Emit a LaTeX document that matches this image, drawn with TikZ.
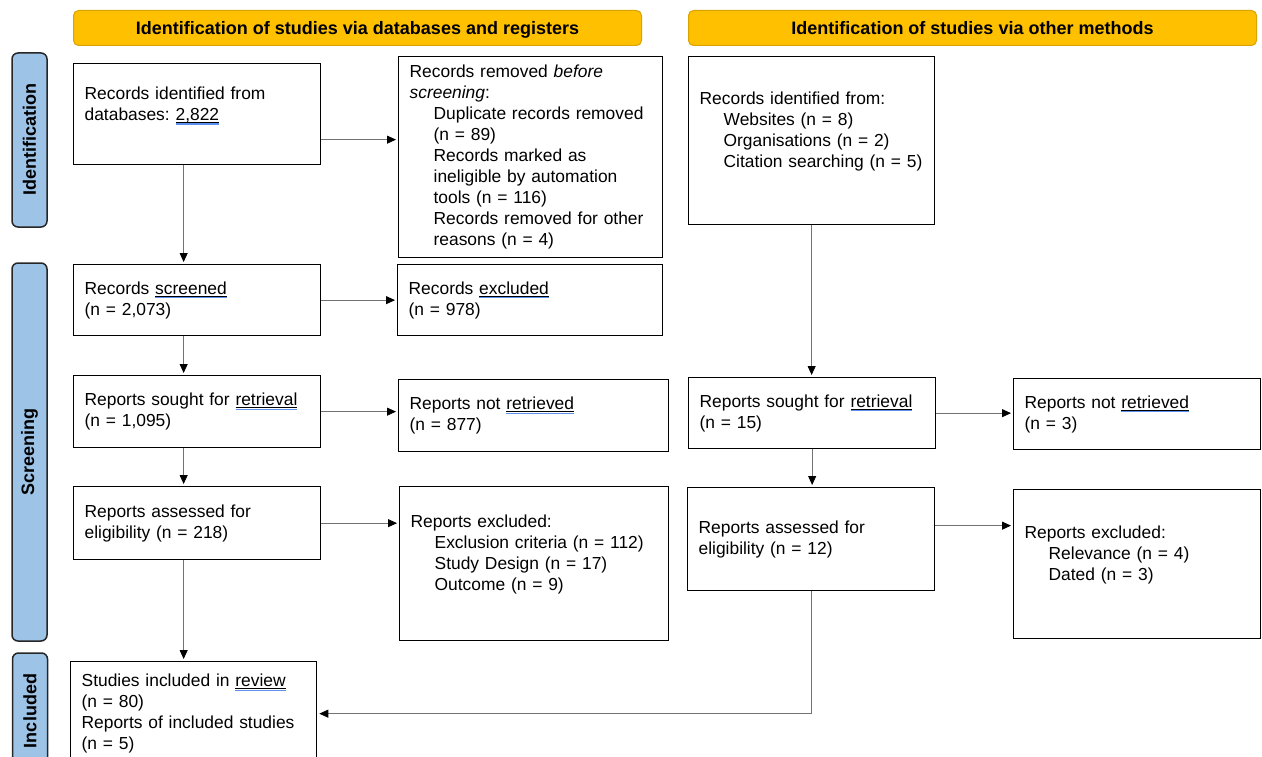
\documentclass[tikz,border=0pt]{standalone}
\usepackage{fontspec}
\setmainfont{Liberation Sans}
\usetikzlibrary{arrows.meta}
\definecolor{hdrfill}{HTML}{FFC000}
\definecolor{hdrline}{HTML}{D9A300}
\definecolor{barfill}{HTML}{9DC3E6}
\definecolor{spellblue}{HTML}{5B8FF0}
\newcommand{\spell}[1]{\setbox0=\hbox{#1}\rlap{\color{black}\rule[-2pt]{\wd0}{0.6pt}}\rlap{\color{spellblue}\rule[-4.2pt]{\wd0}{1.2pt}}\box0}
\newcommand{\ind}{\hspace*{24pt}}
\frenchspacing

\begin{document}
\begin{tikzpicture}[x=1pt, y=-1pt,
  every node/.style={font=\fontsize{17.4}{21}\selectfont},
  hdr/.style={draw=hdrline, fill=hdrfill, rounded corners=5pt, line width=1pt, anchor=north west, minimum width=568pt, minimum height=35pt, inner sep=0pt, text height=16pt, text depth=2pt, font=\fontsize{18}{21}\selectfont\bfseries},
  bar/.style={draw=black!85, fill=barfill, rounded corners=6pt, line width=1.5pt, rotate=90, minimum height=35pt, inner sep=0pt, font=\fontsize{18}{21}\selectfont\bfseries},
  box/.style 2 args={draw, line width=1.3pt, anchor=north west, align=left, inner xsep=11pt, inner ysep=0pt, text width=#1, minimum height=#2},
  arr/.style={draw=black!55, line width=0.8pt, shorten >=2pt, -{Triangle[length=9pt, width=8pt, color=black]}}]
	\clip (0,0) rectangle (1262,757);
	\node[hdr] (hdb) at (73,10) {Identification of studies via databases and registers};
	\node[hdr] (hot) at (688,10) {Identification of studies via other methods};
	\node[bar, minimum width=174pt] (sid) at (29.5,140) {Identification};
	\node[bar, minimum width=378pt] (sscr) at (29.5,452) {Screening};
	\node[bar, minimum width=116pt] (sinc) at (30,711) {Included};
	\node[box={225pt}{101pt}] (db) at (73,63) {Records identified from\\databases: \spell{2,822}\\\mbox{}};
	\node[box={242pt}{201pt}] (rem) at (398,56) {Records removed \textit{before}\\\textit{screening}:\\\ind Duplicate records removed\\\ind (n = 89)\\\ind Records marked as\\\ind ineligible by automation\\\ind tools (n = 116)\\\ind Records removed for other\\\ind reasons (n = 4)};
	\node[box={224pt}{168pt}] (oth) at (688,56) {Records identified from:\\\ind Websites (n = 8)\\\ind Organisations (n = 2)\\\ind Citation searching (n = 5)\\\mbox{}};
	\node[box={225pt}{71pt}] (scr) at (73,264) {Records \spell{screened}\\(n = 2,073)};
	\node[box={243pt}{71pt}] (exc) at (397,264) {Records \spell{excluded}\\(n = 978)};
	\node[box={225pt}{72pt}] (sou) at (73,375) {Reports sought for \spell{retrieval}\\(n = 1,095)};
	\node[box={248pt}{72pt}] (nre) at (398,379) {Reports not \spell{retrieved}\\(n = 877)};
	\node[box={225pt}{71pt}] (osou) at (688,377) {Reports sought for \spell{retrieval}\\(n = 15)};
	\node[box={225pt}{71pt}] (onre) at (1013,378) {Reports not \spell{retrieved}\\(n = 3)};
	\node[box={225pt}{73pt}] (ass) at (73,486) {Reports assessed for\\eligibility (n = 218)};
	\node[box={247pt}{154pt}] (rex) at (399,486) {Reports excluded:\\\ind Exclusion criteria (n = 112)\\\ind Study Design (n = 17)\\\ind Outcome (n = 9)\\\mbox{}};
	\node[box={225pt}{103pt}] (oass) at (687,487) {Reports assessed for\\eligibility (n = 12)};
	\node[box={225pt}{149pt}] (orex) at (1013,489) {Reports excluded:\\\ind Relevance (n = 4)\\\ind Dated (n = 3)\\\mbox{}};
	\node[box={224pt}{104pt}] (inc) at (70,661) {Studies included in \spell{review}\\(n = 80)\\Reports of included studies\\(n = 5)};
	\coordinate (dbout) at ([yshift=-25.5pt]db.east);
	\coordinate (dbdown) at ([xshift=-13.5pt]db.south);
	\coordinate (scrdown) at ([xshift=-13.5pt]scr.south);
	\coordinate (soudown) at ([xshift=-13.5pt]sou.south);
	\coordinate (assdown) at ([xshift=-13.5pt]ass.south);
	\coordinate (oassout) at ([yshift=13.5pt]oass.east);
	\draw[arr] (dbout) -- (dbout -| rem.west);
	\draw[arr] (dbdown) -- (dbdown |- scr.north);
	\draw[arr] (scr.east) -- (scr.east -| exc.west);
	\draw[arr] (scrdown) -- (scrdown |- sou.north);
	\draw[arr] (sou.east) -- (sou.east -| nre.west);
	\draw[arr] (soudown) -- (soudown |- ass.north);
	\draw[arr] (ass.east) -- (ass.east -| rex.west);
	\draw[arr] (assdown) -- (assdown |- inc.north);
	\draw[arr] (oth.south) -- (oth.south |- osou.north);
	\draw[arr] (osou.east) -- (osou.east -| onre.west);
	\draw[arr] (osou.south) -- (osou.south |- oass.north);
	\draw[arr] (oassout) -- (oassout -| orex.west);
	\draw[arr] (oass.south) |- (inc.east);
\end{tikzpicture}
\end{document}
